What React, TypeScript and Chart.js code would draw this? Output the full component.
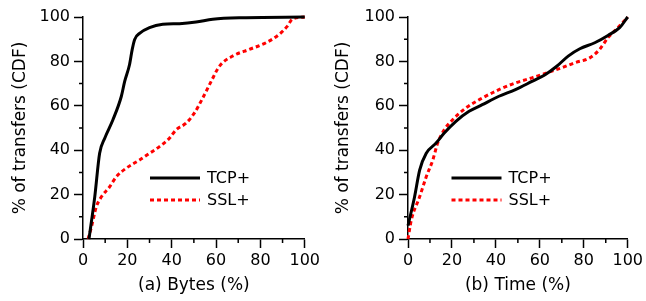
import React, { useEffect, useRef } from "react";
import { Chart, registerables } from "chart.js";

Chart.register(...registerables);

const FONT = "'DejaVu Sans', Verdana, sans-serif";

// (a) Bytes
const bytesTcpX = [2.7, 5.3, 7.5, 9.8, 13.5, 17.3, 18.8, 21, 22.2, 23.3, 25.5, 30, 36, 43.5, 51, 58.5, 73.5, 100];
const bytesTcpY = [0, 19, 38.6, 45.4, 53.7, 64.3, 71, 78.6, 85.4, 89.9, 92.6, 95.2, 96.7, 97, 97.7, 99, 99.7, 100];
const bytesSslX = [2.3, 3.8, 6, 8.3, 12, 15, 19.5, 25.5, 30, 34.5, 39, 42, 46.5, 50.2, 54, 57.8, 61.5, 67.5, 75, 82.5, 88.5, 92.2, 94.4, 100];
const bytesSslY = [0, 5.4, 14.5, 19, 23.5, 28, 31.9, 35.6, 38.6, 41.6, 45.4, 49.2, 52.2, 56.7, 63.5, 71, 77.8, 82.4, 85.4, 88.4, 92.2, 95.9, 99, 100];

// (b) Time
const timeTcpX = [0, 3, 5.3, 8.3, 12.8, 16.5, 21.8, 27.8, 33.8, 41.4, 48.9, 56.4, 62.4, 67.7, 72.9, 78.2, 85, 91, 96.3, 100];
const timeTcpY = [6, 19, 31, 38.6, 43.2, 47.7, 53, 57.5, 60.5, 64.3, 67.3, 71, 74, 77.8, 82.4, 85.7, 88.4, 91.7, 95.2, 100];
const timeSslX = [0, 1.5, 5.3, 8.3, 11.3, 13.5, 16.5, 20.3, 26.3, 33.8, 41.4, 48.9, 56.4, 63.9, 69.9, 75.9, 82.7, 87.2, 91, 94.8, 100];
const timeSslY = [0, 8.5, 19, 28, 35.6, 43.2, 49.2, 53.7, 59, 63.5, 67.3, 70.3, 72.6, 75.1, 77.1, 79.4, 81.6, 85.4, 90.7, 94.4, 100];

const seriesNames = ["TCP+", "SSL+"];
const majorTickStep = 20;
const minorTicks = [10, 30, 50, 70, 90];
const yTitle = "% of transfers (CDF)";

const zip = (xs: number[], ys: number[]) => xs.map((x, i) => ({ x, y: ys[i] }));

const minorTickPlugin = {
  id: "minorTicks",
  afterDraw(chart: any) {
    const ctx = chart.ctx;
    const xs = chart.scales.x;
    const ys = chart.scales.y;
    ctx.save();
    ctx.strokeStyle = "#000";
    ctx.lineWidth = 1.5;
    ctx.beginPath();
    for (const v of minorTicks) {
      const px = xs.getPixelForValue(v);
      ctx.moveTo(px, xs.top);
      ctx.lineTo(px, xs.top + 4);
      const py = ys.getPixelForValue(v);
      ctx.moveTo(ys.right, py);
      ctx.lineTo(ys.right - 4, py);
    }
    ctx.stroke();
    ctx.restore();
  },
};

const legendPlugin = {
  id: "lineLegend",
  afterDraw(chart: any, _args: any, opts: any) {
    const ctx = chart.ctx;
    const ca = chart.chartArea;
    const x0 = ca.left + opts.dx;
    const y0 = ca.top + opts.dy;
    ctx.save();
    chart.data.datasets.forEach((ds: any, i: number) => {
      const y = y0 + i * 22;
      ctx.beginPath();
      ctx.strokeStyle = ds.borderColor;
      ctx.lineWidth = ds.borderWidth;
      ctx.setLineDash(ds.borderDash || []);
      ctx.moveTo(x0, y);
      ctx.lineTo(x0 + 50, y);
      ctx.stroke();
      ctx.setLineDash([]);
      ctx.fillStyle = "#000";
      ctx.font = `16px ${FONT}`;
      ctx.textBaseline = "middle";
      ctx.textAlign = "left";
      ctx.fillText(ds.label, x0 + 57, y + 1);
    });
    ctx.restore();
  },
};

function makeConfig(
  tcp: { x: number; y: number }[],
  ssl: { x: number; y: number }[],
  xTitle: string,
  yWidth: number,
  rightPad: number,
  legendDx: number
): any {
  const tickFont = { family: FONT, size: 16 };
  const titleFont = { family: FONT, size: 17 };
  return {
    type: "line",
    data: {
      datasets: [
        {
          label: seriesNames[0],
          data: tcp,
          borderColor: "#000000",
          borderWidth: 3,
          pointRadius: 0,
          cubicInterpolationMode: "monotone",
          fill: false,
          clip: false,
        },
        {
          label: seriesNames[1],
          data: ssl,
          borderColor: "#ff0000",
          borderWidth: 3,
          borderDash: [4, 3],
          pointRadius: 0,
          cubicInterpolationMode: "monotone",
          fill: false,
          clip: false,
        },
      ],
    },
    options: {
      responsive: false,
      animation: false,
      layout: { padding: { left: 0, right: rightPad, top: 17, bottom: 0 } },
      plugins: {
        legend: { display: false },
        tooltip: { enabled: false },
        lineLegend: { dx: legendDx, dy: 161 },
      },
      scales: {
        x: {
          type: "linear",
          min: 0,
          max: 100,
          ticks: { stepSize: majorTickStep, font: tickFont, color: "#000", padding: 3, maxRotation: 0 },
          grid: { drawOnChartArea: false, tickLength: 9, color: "#000", tickWidth: 1.5 },
          border: { color: "#000", width: 1.5 },
          title: { display: true, text: xTitle, font: titleFont, color: "#000", padding: { top: 4, bottom: 5 } },
          afterFit(s: any) {
            s.height = 62;
          },
        },
        y: {
          type: "linear",
          min: 0,
          max: 100,
          ticks: { stepSize: majorTickStep, font: tickFont, color: "#000", padding: 4 },
          grid: { drawOnChartArea: false, tickLength: 9, color: "#000", tickWidth: 1.5 },
          border: { color: "#000", width: 1.5 },
          title: { display: true, text: yTitle, font: titleFont, color: "#000", padding: { top: 10, bottom: 0 } },
          afterFit(s: any) {
            s.width = yWidth;
          },
        },
      },
    },
    plugins: [minorTickPlugin, legendPlugin],
  };
}

export default function App() {
  const leftRef = useRef<HTMLCanvasElement>(null);
  const rightRef = useRef<HTMLCanvasElement>(null);

  useEffect(() => {
    const c1 = new Chart(
      leftRef.current!,
      makeConfig(zip(bytesTcpX, bytesTcpY), zip(bytesSslX, bytesSslY), "(a) Bytes (%)", 83, 17, 67)
    );
    const c2 = new Chart(
      rightRef.current!,
      makeConfig(zip(timeTcpX, timeTcpY), zip(timeSslX, timeSslY), "(b) Time (%)", 85, 16, 43.5)
    );
    return () => {
      c1.destroy();
      c2.destroy();
    };
  }, []);

  return (
    <div style={{ position: "absolute", left: 0, top: 0, width: 646, height: 301, background: "#fff" }}>
      <canvas ref={leftRef} width={323} height={301} style={{ position: "absolute", left: 0, top: 0 }} />
      <canvas ref={rightRef} width={323} height={301} style={{ position: "absolute", left: 323, top: 0 }} />
    </div>
  );
}
